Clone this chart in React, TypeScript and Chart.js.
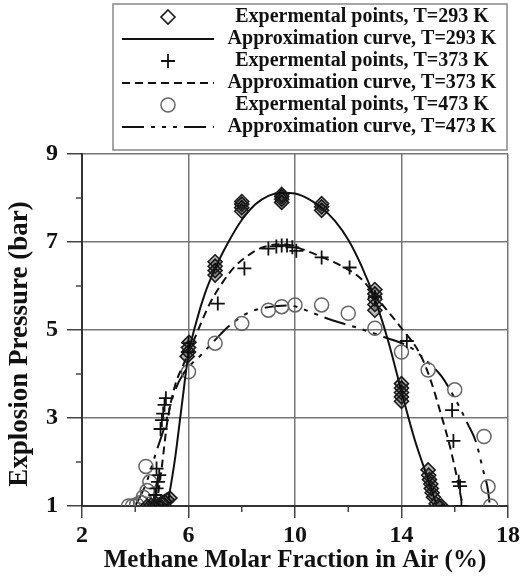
import React, { useEffect, useRef } from 'react';
import { Chart, registerables } from 'chart.js';

Chart.register(...registerables);

const FONT = "'Liberation Serif', 'Times New Roman', Times, serif";

// ---- Experimental points, T=293 K (diamonds)
const exp293X = [4.45, 4.6, 4.7, 4.8, 4.9, 5.0, 5.1, 5.2, 5.3,
  5.95, 6.0, 6.0, 6.02,
  7.0, 7.0, 7.0, 7.0,
  8.0, 8.0, 8.0, 8.0,
  9.5, 9.5, 9.5, 9.5,
  11.0, 11.0, 11.0,
  13.0, 13.0, 13.0, 13.0, 13.0,
  14.0, 14.0, 14.0, 14.0, 14.0,
  15.0, 15.02, 15.05, 15.1, 15.12, 15.15, 15.2, 15.3, 15.4, 15.5];
const exp293Y = [1.0, 1.02, 1.0, 1.05, 1.02, 1.08, 1.1, 1.14, 1.18,
  4.4, 4.5, 4.6, 4.72,
  6.25, 6.35, 6.45, 6.55,
  7.7, 7.78, 7.86, 7.92,
  7.9, 7.97, 8.03, 8.08,
  7.72, 7.8, 7.87,
  5.45, 5.58, 5.7, 5.82, 5.92,
  3.38, 3.48, 3.58, 3.68, 3.78,
  1.82, 1.7, 1.6, 1.5, 1.4, 1.3, 1.2, 1.05, 1.0, 1.0];

// ---- Approximation curve, T=293 K
const curve293X = [5.25, 5.5, 5.75, 6.0, 6.3, 6.6, 7.0, 7.5, 8.0, 8.5, 9.0, 9.5, 10.0, 10.5, 11.0, 11.5, 12.0, 12.5, 13.0, 13.5, 14.0, 14.5, 15.0, 15.3];
const curve293Y = [1.15, 2.1, 3.3, 4.45, 5.2, 5.8, 6.4, 7.0, 7.5, 7.85, 8.05, 8.12, 8.1, 7.98, 7.78, 7.48, 7.05, 6.45, 5.7, 4.75, 3.6, 2.5, 1.6, 1.05];

// ---- Experimental points, T=373 K (plus)
const exp373X = [4.7, 4.75, 4.8, 4.85, 4.9, 4.8, 4.95, 5.0, 5.05, 5.1, 5.15,
  6.0, 6.0,
  7.1, 8.1, 9.0, 9.3, 9.5, 9.7, 9.9, 10.05, 11.0, 12.05, 13.0, 14.2,
  15.9, 15.95, 16.15, 16.2, 16.25];
const exp373Y = [1.1, 1.25, 1.4, 1.55, 1.7, 1.85, 2.75, 2.95, 3.1, 3.3, 3.45,
  4.5, 4.7,
  5.6, 6.4, 6.85, 6.9, 6.92, 6.92, 6.88, 6.8, 6.65, 6.42, 5.75, 4.75,
  3.18, 2.48, 1.55, 1.45, 1.0];

// ---- Approximation curve, T=373 K
const curve373X = [4.8, 5.0, 5.2, 5.5, 5.8, 6.25, 6.8, 7.3, 7.75, 8.3, 8.8, 9.5, 10.2, 11.0, 11.8, 12.45, 13.25, 14.0, 14.7, 15.1, 15.5, 15.8, 16.1, 16.3];
const curve373Y = [1.0, 1.9, 2.9, 3.75, 4.2, 4.84, 5.6, 6.1, 6.45, 6.72, 6.88, 6.95, 6.85, 6.66, 6.44, 6.18, 5.6, 5.04, 4.45, 3.85, 3.05, 2.4, 1.6, 1.0];

// ---- Experimental points, T=473 K (circles)
const exp473X = [3.75, 3.9, 4.05, 4.2, 4.3, 4.45, 4.55, 4.4,
  6.0, 7.0, 8.0, 9.0, 9.5, 10.0, 11.0, 12.0, 13.0, 14.0, 15.0, 16.0, 17.1, 17.25, 17.35];
const exp473Y = [1.0, 1.0, 1.03, 1.08, 1.2, 1.35, 1.55, 1.9,
  4.05, 4.7, 5.15, 5.45, 5.53, 5.57, 5.57, 5.38, 5.04, 4.5, 4.09, 3.64, 2.58, 1.44, 1.0];

// ---- Approximation curve, T=473 K
const curve473X = [4.0, 4.4, 4.8, 5.1, 5.45, 5.8, 6.5, 7.2, 7.5, 8.2, 9.0, 9.8, 10.2, 10.7, 11.4, 12.4, 13.3, 14.4, 15.0, 15.5, 16.0, 16.5, 16.8, 17.05, 17.25, 17.32];
const curve473Y = [1.0, 1.5, 2.25, 2.8, 3.55, 4.0, 4.45, 4.9, 5.08, 5.38, 5.52, 5.56, 5.5, 5.38, 5.22, 5.04, 4.85, 4.58, 4.26, 3.95, 3.45, 2.85, 2.45, 1.85, 1.35, 1.0];

// ---- Axes
const xMin = 2, xMax = 18, xStep = 4;
const yMin = 1, yMax = 9, yStep = 2;
const xMinorTicks = [4, 8, 12, 16];
const yMinorTicks = [2, 4, 6, 8];
const xTitle = 'Methane Molar Fraction in Air (%)';
const yTitle = 'Explosion Pressure (bar)';

const labels = [
  'Expermental points, T=293 K',
  'Approximation curve, T=293 K',
  'Expermental points, T=373 K',
  'Approximation curve, T=373 K',
  'Expermental points, T=473 K',
  'Approximation curve, T=473 K',
];

const toXY = (xs: number[], ys: number[]) => xs.map((x, i) => ({ x, y: ys[i] }));

const minorTicksPlugin = {
  id: 'minorTicks',
  afterDraw(chart: any) {
    const { ctx, chartArea, scales } = chart;
    ctx.save();
    ctx.strokeStyle = '#444';
    ctx.lineWidth = 1.5;
    xMinorTicks.forEach((v) => {
      const px = scales.x.getPixelForValue(v);
      ctx.beginPath();
      ctx.moveTo(px, chartArea.bottom);
      ctx.lineTo(px, chartArea.bottom + 6);
      ctx.stroke();
    });
    yMinorTicks.forEach((v) => {
      const py = scales.y.getPixelForValue(v);
      ctx.beginPath();
      ctx.moveTo(chartArea.left, py);
      ctx.lineTo(chartArea.left - 6, py);
      ctx.stroke();
    });
    ctx.restore();
  },
};

const yTitlePlugin = {
  id: 'yTitle',
  afterDraw(chart: any) {
    const { ctx, chartArea } = chart;
    ctx.save();
    ctx.translate(20, (chartArea.top + chartArea.bottom) / 2 + 14);
    ctx.rotate(-Math.PI / 2);
    ctx.font = `bold 27px ${FONT}`;
    ctx.fillStyle = '#111';
    ctx.textAlign = 'center';
    ctx.textBaseline = 'middle';
    ctx.fillText(yTitle, 0, 0);
    ctx.restore();
  },
};

function drawMarker(ctx: CanvasRenderingContext2D, style: string, x: number, y: number, r: number) {
  ctx.beginPath();
  if (style === 'rectRot') {
    ctx.moveTo(x, y - r);
    ctx.lineTo(x + r, y);
    ctx.lineTo(x, y + r);
    ctx.lineTo(x - r, y);
    ctx.closePath();
  } else if (style === 'cross') {
    ctx.moveTo(x - r, y);
    ctx.lineTo(x + r, y);
    ctx.moveTo(x, y - r);
    ctx.lineTo(x, y + r);
  } else {
    ctx.arc(x, y, r, 0, Math.PI * 2);
  }
  ctx.stroke();
}

const boxLegendPlugin = {
  id: 'boxLegend',
  afterDraw(chart: any) {
    const { ctx, chartArea } = chart;
    const right = chartArea.right - 1;
    const left = 113;
    const top = 4;
    const bottom = chartArea.top - 4;
    ctx.save();
    ctx.fillStyle = '#fff';
    ctx.fillRect(left, top, right - left, bottom - top);
    ctx.strokeStyle = '#888';
    ctx.lineWidth = 1.5;
    ctx.strokeRect(left, top, right - left, bottom - top);
    const symL = 122, symR = 214, symC = 168;
    const textC = 362;
    chart.data.datasets.forEach((ds: any, i: number) => {
      const yy = top + 13 + i * 22;
      ctx.strokeStyle = ds.borderColor;
      ctx.lineWidth = ds.borderWidth;
      if (ds.showLine) {
        ctx.setLineDash(ds.borderDash || []);
        ctx.beginPath();
        ctx.moveTo(symL, yy);
        ctx.lineTo(symR, yy);
        ctx.stroke();
        ctx.setLineDash([]);
      } else {
        drawMarker(ctx, ds.pointStyle, symC, yy, ds.pointRadius);
      }
      ctx.fillStyle = '#111';
      ctx.font = `bold 20px ${FONT}`;
      ctx.textAlign = 'center';
      ctx.textBaseline = 'middle';
      ctx.fillText(ds.label, textC, yy);
    });
    ctx.restore();
  },
};

export default function App() {
  const canvasRef = useRef<HTMLCanvasElement | null>(null);

  useEffect(() => {
    const canvas = canvasRef.current;
    if (!canvas) return;
    const chart = new Chart(canvas, {
      type: 'scatter',
      data: {
        datasets: [
          {
            label: labels[0],
            data: toXY(exp293X, exp293Y),
            showLine: false,
            pointStyle: 'rectRot',
            pointRadius: 7,
            borderColor: '#1a1a1a',
            backgroundColor: 'rgba(0,0,0,0.28)',
            borderWidth: 1.6,
          },
          {
            label: labels[1],
            data: toXY(curve293X, curve293Y),
            showLine: true,
            pointRadius: 0,
            borderColor: '#111',
            borderWidth: 2,
            cubicInterpolationMode: 'monotone',
            fill: false,
          },
          {
            label: labels[2],
            data: toXY(exp373X, exp373Y),
            showLine: false,
            pointStyle: 'cross',
            pointRadius: 7,
            borderColor: '#111',
            backgroundColor: 'transparent',
            borderWidth: 1.8,
          },
          {
            label: labels[3],
            data: toXY(curve373X, curve373Y),
            showLine: true,
            pointRadius: 0,
            borderColor: '#111',
            borderWidth: 2,
            borderDash: [8, 5],
            cubicInterpolationMode: 'monotone',
            fill: false,
          },
          {
            label: labels[4],
            data: toXY(exp473X, exp473Y),
            showLine: false,
            pointStyle: 'circle',
            pointRadius: 7,
            borderColor: '#666',
            backgroundColor: 'transparent',
            borderWidth: 1.5,
          },
          {
            label: labels[5],
            data: toXY(curve473X, curve473Y),
            showLine: true,
            pointRadius: 0,
            borderColor: '#111',
            borderWidth: 2,
            borderDash: [22, 7, 4, 7, 4, 7, 4, 7],
            cubicInterpolationMode: 'monotone',
            fill: false,
          },
        ],
      } as any,
      options: {
        animation: false,
        responsive: true,
        maintainAspectRatio: false,
        layout: { padding: { left: 4, right: 14, top: 154, bottom: 2 } },
        plugins: { legend: { display: false }, tooltip: { enabled: false } },
        scales: {
          x: {
            type: 'linear',
            min: xMin,
            max: xMax,
            ticks: {
              stepSize: xStep,
              color: '#111',
              padding: 3,
              font: { family: FONT, size: 24, weight: 'bold' },
            },
            grid: { color: '#777', lineWidth: 1.5, tickLength: 12, tickColor: '#444' },
            border: { color: '#333', width: 2 },
            title: {
              display: true,
              text: xTitle,
              color: '#111',
              font: { family: FONT, size: 25, weight: 'bold' },
              padding: { top: 0, bottom: 2 },
            },
            afterFit: (s: any) => {
              s.height = 72;
              s.paddingLeft = 0;
              s.paddingRight = 0;
            },
          },
          y: {
            type: 'linear',
            min: yMin,
            max: yMax,
            ticks: {
              stepSize: yStep,
              color: '#111',
              padding: 9,
              font: { family: FONT, size: 24, weight: 'bold' },
            },
            grid: { color: '#777', lineWidth: 1.5, tickLength: 15, tickColor: '#444' },
            border: { color: '#333', width: 2 },
            afterFit: (s: any) => {
              s.width = 78;
              s.paddingTop = 0;
              s.paddingBottom = 0;
            },
          },
        },
      } as any,
      plugins: [minorTicksPlugin, yTitlePlugin, boxLegendPlugin],
    });
    return () => chart.destroy();
  }, []);

  return (
    <div style={{ position: 'absolute', left: 0, top: 0, width: 522, height: 580, background: '#fff' }}>
      <canvas ref={canvasRef} />
    </div>
  );
}
